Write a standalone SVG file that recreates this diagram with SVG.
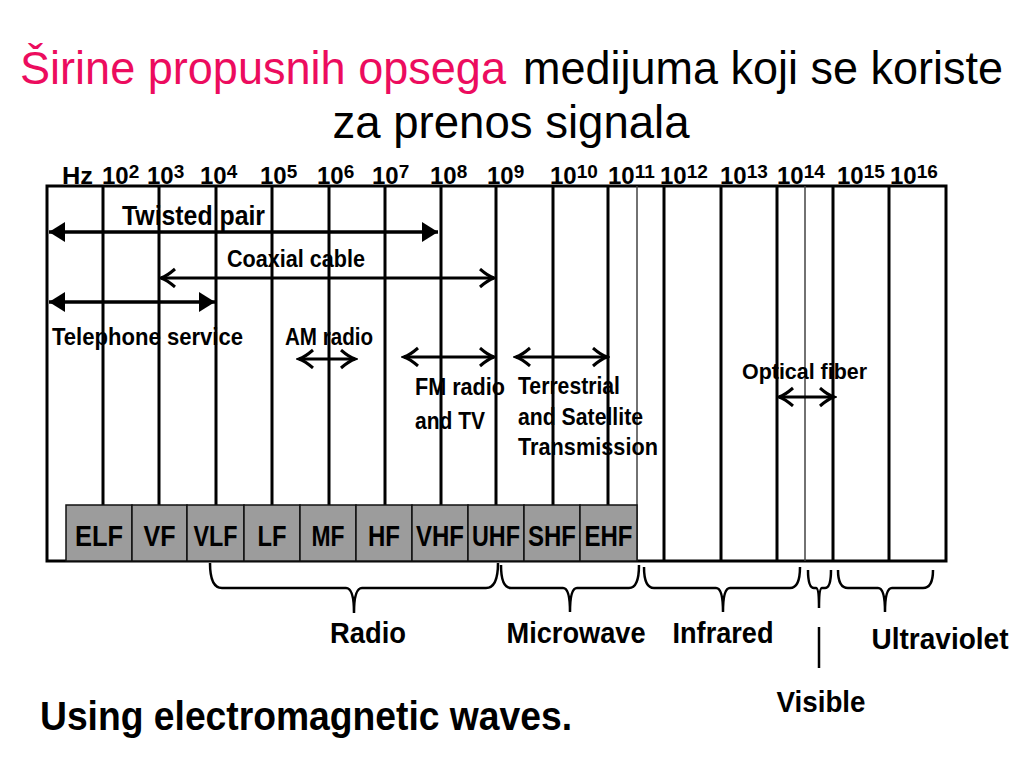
<svg xmlns="http://www.w3.org/2000/svg" width="1024" height="768" viewBox="0 0 1024 768">
<defs>
<style>
.t{font-family:"Liberation Sans",Arial,sans-serif;}
.b{font-family:"Liberation Sans",Arial,sans-serif;font-weight:bold;fill:#000;}
.thick{stroke:#000;stroke-width:3;fill:none;}
.thin{stroke:#444;stroke-width:1.5;fill:none;}
.box{fill:#9c9c9c;stroke:#111;stroke-width:1.5;}
.arrF{stroke:#000;stroke-width:3.5;fill:none;marker-start:url(#tri);marker-end:url(#tri);}
.arrB{stroke:#000;stroke-width:3;fill:none;marker-start:url(#barb);marker-end:url(#barb);}
.brace{stroke:#000;stroke-width:2.5;fill:none;}
.freq{font-size:24px;}
.sup{font-size:19px;}
.band{font-size:30px;}
.lbl{font-size:24px;}
.big{font-size:30px;}
</style>
<marker id="tri" markerUnits="userSpaceOnUse" markerWidth="18" markerHeight="22" refX="16" refY="10" orient="auto-start-reverse">
<path d="M0,0 L16,10 L0,20 z" fill="#000"/>
</marker>
<marker id="barb" markerUnits="userSpaceOnUse" markerWidth="18" markerHeight="22" refX="15" refY="10" orient="auto-start-reverse">
<path d="M1,1 Q9,8 15,10 Q9,12 1,19" fill="none" stroke="#000" stroke-width="3"/>
</marker>
</defs>
<rect width="1024" height="768" fill="#fff"/>

<g id="title">
<text class="t" x="20" y="84" font-size="46" fill="#ec0c5e" textLength="486" lengthAdjust="spacingAndGlyphs">Širine propusnih opsega</text>
<text class="t" x="523" y="84" font-size="46" fill="#000" textLength="480" lengthAdjust="spacingAndGlyphs">medijuma koji se koriste</text>
<text class="t" x="511" y="138" font-size="46" fill="#000" text-anchor="middle" textLength="357" lengthAdjust="spacingAndGlyphs">za prenos signala</text>
</g>

<g id="frequency-axis">
<text class="b freq" x="62" y="184" textLength="31" lengthAdjust="spacingAndGlyphs">Hz</text>
<text class="b freq" x="102" y="184">10<tspan class="sup" dy="-6">2</tspan></text>
<text class="b freq" x="147" y="184">10<tspan class="sup" dy="-6">3</tspan></text>
<text class="b freq" x="200" y="184">10<tspan class="sup" dy="-6">4</tspan></text>
<text class="b freq" x="260" y="184">10<tspan class="sup" dy="-6">5</tspan></text>
<text class="b freq" x="317" y="184">10<tspan class="sup" dy="-6">6</tspan></text>
<text class="b freq" x="372" y="184">10<tspan class="sup" dy="-6">7</tspan></text>
<text class="b freq" x="430" y="184">10<tspan class="sup" dy="-6">8</tspan></text>
<text class="b freq" x="487" y="184">10<tspan class="sup" dy="-6">9</tspan></text>
<text class="b freq" x="550" y="184">10<tspan class="sup" dy="-6">10</tspan></text>
<text class="b freq" x="608" y="184">10<tspan class="sup" dy="-6">11</tspan></text>
<text class="b freq" x="660" y="184">10<tspan class="sup" dy="-6">12</tspan></text>
<text class="b freq" x="720" y="184">10<tspan class="sup" dy="-6">13</tspan></text>
<text class="b freq" x="777" y="184">10<tspan class="sup" dy="-6">14</tspan></text>
<text class="b freq" x="837" y="184">10<tspan class="sup" dy="-6">15</tspan></text>
<text class="b freq" x="890" y="184">10<tspan class="sup" dy="-6">16</tspan></text>
</g>

<g id="grid">
<rect class="thick" x="47" y="186" width="899" height="375"/>
<path class="thick" d="M103,186V505M159,186V505M216,186V505M272,186V505M329,186V505M385,186V505M441,186V505M496,186V505M553,186V505M608,186V505"/>
<path class="thick" d="M664,186V561M721,186V561M777,186V561M833,186V561M889,186V561"/>
<path class="thin" d="M637,186V561M805,186V561"/>
</g>

<g id="bands">
<g id="band-ELF"><rect class="box" x="66" y="505" width="66" height="56"/><text class="b band" x="99" y="546" text-anchor="middle" textLength="48" lengthAdjust="spacingAndGlyphs">ELF</text></g>
<g id="band-VF"><rect class="box" x="132" y="505" width="55" height="56"/><text class="b band" x="159.5" y="546" text-anchor="middle" textLength="32" lengthAdjust="spacingAndGlyphs">VF</text></g>
<g id="band-VLF"><rect class="box" x="187" y="505" width="57" height="56"/><text class="b band" x="215.5" y="546" text-anchor="middle" textLength="44" lengthAdjust="spacingAndGlyphs">VLF</text></g>
<g id="band-LF"><rect class="box" x="244" y="505" width="56" height="56"/><text class="b band" x="272" y="546" text-anchor="middle" textLength="29" lengthAdjust="spacingAndGlyphs">LF</text></g>
<g id="band-MF"><rect class="box" x="300" y="505" width="56" height="56"/><text class="b band" x="328" y="546" text-anchor="middle" textLength="33" lengthAdjust="spacingAndGlyphs">MF</text></g>
<g id="band-HF"><rect class="box" x="356" y="505" width="56" height="56"/><text class="b band" x="384" y="546" text-anchor="middle" textLength="32" lengthAdjust="spacingAndGlyphs">HF</text></g>
<g id="band-VHF"><rect class="box" x="412" y="505" width="56" height="56"/><text class="b band" x="440" y="546" text-anchor="middle" textLength="48" lengthAdjust="spacingAndGlyphs">VHF</text></g>
<g id="band-UHF"><rect class="box" x="468" y="505" width="56" height="56"/><text class="b band" x="496" y="546" text-anchor="middle" textLength="48" lengthAdjust="spacingAndGlyphs">UHF</text></g>
<g id="band-SHF"><rect class="box" x="524" y="505" width="56" height="56"/><text class="b band" x="552" y="546" text-anchor="middle" textLength="48" lengthAdjust="spacingAndGlyphs">SHF</text></g>
<g id="band-EHF"><rect class="box" x="580" y="505" width="57" height="56"/><text class="b band" x="608.5" y="546" text-anchor="middle" textLength="48" lengthAdjust="spacingAndGlyphs">EHF</text></g>
</g>

<g id="connectors">
<line class="arrF" x1="49" y1="232" x2="438" y2="232"/>
<line class="arrB" x1="161" y1="278" x2="494" y2="278"/>
<line class="arrF" x1="49" y1="302" x2="215" y2="302"/>
<line class="arrB" x1="299" y1="359" x2="355" y2="359"/>
<line class="arrB" x1="404" y1="357" x2="494" y2="357"/>
<line class="arrB" x1="516" y1="357" x2="607" y2="357"/>
<line class="arrB" x1="779" y1="397" x2="834" y2="397"/>
</g>

<g id="media-labels">
<text class="b" x="122" y="225" font-size="27" textLength="143" lengthAdjust="spacingAndGlyphs">Twisted pair</text>
<text class="b lbl" x="227" y="267" textLength="138" lengthAdjust="spacingAndGlyphs">Coaxial cable</text>
<text class="b lbl" x="52" y="345" textLength="191" lengthAdjust="spacingAndGlyphs">Telephone service</text>
<text class="b lbl" x="285" y="345" textLength="88" lengthAdjust="spacingAndGlyphs">AM radio</text>
<text class="b lbl" x="415" y="395" textLength="90" lengthAdjust="spacingAndGlyphs">FM radio</text>
<text class="b lbl" x="415" y="429" textLength="70" lengthAdjust="spacingAndGlyphs">and TV</text>
<text class="b lbl" x="518" y="394" textLength="102" lengthAdjust="spacingAndGlyphs">Terrestrial</text>
<text class="b lbl" x="518" y="425" textLength="125" lengthAdjust="spacingAndGlyphs">and Satellite</text>
<text class="b lbl" x="518" y="455" textLength="140" lengthAdjust="spacingAndGlyphs">Transmission</text>
<text class="b" x="742" y="379" font-size="22" textLength="125" lengthAdjust="spacingAndGlyphs">Optical fiber</text>
</g>

<g id="braces">
<path class="brace" d="M210,563 Q210,588 222,588 L346,588 Q354,588 354,613 Q354,588 362,588 L486,588 Q498,588 498,563"/>
<path class="brace" d="M501,565 Q501,588 511,588 L563,588 Q570,588 570,612 Q570,588 577,588 L629,588 Q639,588 639,565"/>
<path class="brace" d="M644,567 Q644,588 654,588 L716,588 Q723,588 723,612 Q723,588 730,588 L790,588 Q800,588 800,567"/>
<path class="brace" d="M808,570 Q808,588 814,588 L816,588 Q819,588 819,608 Q819,588 822,588 L825,588 Q831,588 831,570"/>
<line class="brace" x1="819" y1="627" x2="819" y2="668"/>
<path class="brace" d="M838,570 Q838,588 848,588 L878,588 Q885,588 885,612 Q885,588 892,588 L923,588 Q933,588 933,570"/>
</g>

<g id="region-labels">
<text class="b big" x="368" y="643" text-anchor="middle" textLength="76" lengthAdjust="spacingAndGlyphs">Radio</text>
<text class="b big" x="576" y="643" text-anchor="middle" textLength="139" lengthAdjust="spacingAndGlyphs">Microwave</text>
<text class="b big" x="723" y="643" text-anchor="middle" textLength="101" lengthAdjust="spacingAndGlyphs">Infrared</text>
<text class="b big" x="940" y="649" text-anchor="middle" textLength="137" lengthAdjust="spacingAndGlyphs">Ultraviolet</text>
<text class="b big" x="821" y="712" text-anchor="middle" textLength="89" lengthAdjust="spacingAndGlyphs">Visible</text>
</g>

<text class="b" x="40" y="730" font-size="40" textLength="532" lengthAdjust="spacingAndGlyphs">Using electromagnetic waves.</text>
</svg>
